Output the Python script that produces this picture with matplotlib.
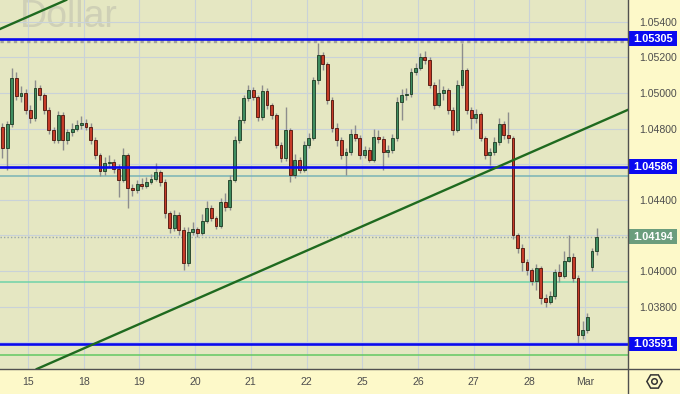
import matplotlib
matplotlib.use("Agg")
import matplotlib.pyplot as plt
from matplotlib.lines import Line2D
from matplotlib.patches import Rectangle
import matplotlib.transforms as mtransforms

# ---------------- data ----------------
day_labels = ['15', '18', '19', '20', '21', '22', '25', '26', '27', '28', 'Mar']
bars_per_day = 12

opens = [1.04810, 1.04692, 1.04826, 1.05084, 1.04983, 1.05000, 1.04905, 1.04860, 1.05028, 1.04989,
         1.04905, 1.04793, 1.04737, 1.04877, 1.04737, 1.04781, 1.04798, 1.04821, 1.04832, 1.04810,
         1.04737, 1.04652, 1.04563, 1.04608, 1.04613, 1.04574, 1.04512, 1.04652, 1.04467, 1.04456,
         1.04490, 1.04479, 1.04501, 1.04518, 1.04557, 1.04501, 1.04327, 1.04243, 1.04316, 1.04231,
         1.04047, 1.04220, 1.04237, 1.04215, 1.04282, 1.04355, 1.04299, 1.04254, 1.04389, 1.04361,
         1.04512, 1.04737, 1.04849, 1.04972, 1.05017, 1.04978, 1.04866, 1.05011, 1.04933, 1.04877,
         1.04709, 1.04636, 1.04793, 1.04540, 1.04624, 1.04569, 1.04709, 1.04748, 1.05073, 1.05213,
         1.05163, 1.04961, 1.04804, 1.04737, 1.04652, 1.04669, 1.04770, 1.04748, 1.04652, 1.04680,
         1.04624, 1.04753, 1.04742, 1.04669, 1.04680, 1.04748, 1.04950, 1.04989, 1.04995, 1.05118,
         1.05141, 1.05202, 1.05185, 1.05045, 1.04933, 1.05000, 1.05017, 1.04905, 1.04793, 1.05045,
         1.05129, 1.04905, 1.04860, 1.04882, 1.04748, 1.04652, 1.04669, 1.04725, 1.04826, 1.04764,
         1.04748, 1.04203, 1.04131, 1.04052, 1.04007, 1.03946, 1.04018, 1.03850, 1.03828, 1.03861,
         1.03996, 1.03974, 1.04058, 1.04080, 1.03962, 1.03643, 1.03671, 1.04024, 1.04114]

closes = [1.04692, 1.04826, 1.05084, 1.04983, 1.05000, 1.04905, 1.04860, 1.05028, 1.04989, 1.04905,
          1.04793, 1.04737, 1.04877, 1.04737, 1.04781, 1.04798, 1.04821, 1.04832, 1.04810, 1.04737,
          1.04652, 1.04563, 1.04608, 1.04613, 1.04574, 1.04512, 1.04652, 1.04467, 1.04456, 1.04490,
          1.04479, 1.04501, 1.04518, 1.04557, 1.04501, 1.04327, 1.04243, 1.04316, 1.04231, 1.04047,
          1.04220, 1.04237, 1.04215, 1.04282, 1.04355, 1.04299, 1.04254, 1.04389, 1.04361, 1.04512,
          1.04737, 1.04849, 1.04972, 1.05017, 1.04978, 1.04866, 1.05011, 1.04933, 1.04877, 1.04709,
          1.04636, 1.04793, 1.04540, 1.04624, 1.04569, 1.04709, 1.04748, 1.05073, 1.05213, 1.05163,
          1.04961, 1.04804, 1.04737, 1.04652, 1.04669, 1.04770, 1.04748, 1.04652, 1.04680, 1.04624,
          1.04753, 1.04742, 1.04669, 1.04680, 1.04748, 1.04950, 1.04989, 1.04995, 1.05118, 1.05141,
          1.05202, 1.05185, 1.05045, 1.04933, 1.05000, 1.05017, 1.04905, 1.04793, 1.05045, 1.05129,
          1.04905, 1.04860, 1.04882, 1.04748, 1.04652, 1.04669, 1.04725, 1.04826, 1.04764, 1.04748,
          1.04203, 1.04131, 1.04052, 1.04007, 1.03946, 1.04018, 1.03850, 1.03828, 1.03861, 1.03996,
          1.03974, 1.04058, 1.04080, 1.03962, 1.03643, 1.03671, 1.03744, 1.04114, 1.04194]

highs = [1.04830, 1.04840, 1.05140, 1.05120, 1.05040, 1.05020, 1.04930, 1.05073, 1.05045, 1.05000,
         1.04920, 1.04810, 1.04900, 1.04895, 1.04800, 1.04830, 1.04850, 1.04870, 1.04855, 1.04830,
         1.04750, 1.04665, 1.04640, 1.04650, 1.04630, 1.04600, 1.04690, 1.04665, 1.04490, 1.04510,
         1.04520, 1.04530, 1.04545, 1.04608, 1.04570, 1.04515, 1.04340, 1.04345, 1.04330, 1.04245,
         1.04250, 1.04275, 1.04250, 1.04320, 1.04395, 1.04370, 1.04310, 1.04410, 1.04439, 1.04540,
         1.04760, 1.04870, 1.04990, 1.05045, 1.05035, 1.04990, 1.05045, 1.05025, 1.04945, 1.04890,
         1.04725, 1.04920, 1.04805, 1.04660, 1.04640, 1.04730, 1.04775, 1.05090, 1.05281, 1.05230,
         1.05175, 1.04975, 1.04830, 1.04750, 1.04690, 1.04800, 1.04820, 1.04765, 1.04700, 1.04695,
         1.04800, 1.04790, 1.04760, 1.04710, 1.04770, 1.04975, 1.05020, 1.05030, 1.05140, 1.05170,
         1.05225, 1.05235, 1.05200, 1.05060, 1.05080, 1.05040, 1.05030, 1.04920, 1.05070, 1.05281,
         1.05140, 1.04920, 1.04910, 1.04895, 1.04760, 1.04690, 1.04750, 1.04860, 1.04840, 1.04894,
         1.04760, 1.04215, 1.04150, 1.04070, 1.04020, 1.04040, 1.04030, 1.03870, 1.03890, 1.04010,
         1.04040, 1.04110, 1.04200, 1.04100, 1.03980, 1.03720, 1.03765, 1.04130, 1.04240]

lows = [1.04636, 1.04568, 1.04810, 1.04960, 1.04950, 1.04880, 1.04830, 1.04845, 1.04960, 1.04880,
        1.04770, 1.04720, 1.04720, 1.04680, 1.04715, 1.04760, 1.04785, 1.04800, 1.04790, 1.04715,
        1.04630, 1.04536, 1.04540, 1.04585, 1.04550, 1.04417, 1.04500, 1.04355, 1.04420, 1.04440,
        1.04460, 1.04465, 1.04490, 1.04505, 1.04480, 1.04300, 1.04215, 1.04225, 1.04200, 1.04007,
        1.04030, 1.04205, 1.04190, 1.04200, 1.04270, 1.04280, 1.04235, 1.04240, 1.04340, 1.04345,
        1.04500, 1.04720, 1.04830, 1.04955, 1.04960, 1.04840, 1.04850, 1.04910, 1.04855, 1.04690,
        1.04610, 1.04620, 1.04501, 1.04520, 1.04550, 1.04555, 1.04690, 1.04735, 1.05050, 1.05130,
        1.04940, 1.04780, 1.04700, 1.04630, 1.04542, 1.04650, 1.04730, 1.04630, 1.04635, 1.04610,
        1.04610, 1.04720, 1.04568, 1.04640, 1.04665, 1.04730, 1.04849, 1.04960, 1.04980, 1.05100,
        1.05130, 1.05160, 1.05025, 1.04910, 1.04920, 1.04960, 1.04880, 1.04765, 1.04780, 1.05030,
        1.04880, 1.04800, 1.04830, 1.04730, 1.04630, 1.04597, 1.04650, 1.04710, 1.04740, 1.04720,
        1.04180, 1.04103, 1.04000, 1.03980, 1.03920, 1.03895, 1.03815, 1.03800, 1.03815, 1.03845,
        1.03940, 1.03960, 1.04050, 1.03940, 1.03595, 1.03620, 1.03650, 1.04000, 1.04090]

# horizontal levels
blue_levels = [1.05305, 1.04586, 1.03591]
dotted_level = 1.05289
current_price = 1.04194
teal_level = 1.04531
mint_level = 1.03940
green_level = 1.03527

# trend channel (day index, price)
trend_point = (0.215, 1.03458)
trend_slope = 0.001371
channel_point = (-0.503, 1.05359)

price_ticks = [1.054, 1.052, 1.050, 1.048, 1.046, 1.044, 1.042, 1.040, 1.038, 1.036]
price_tick_labels = ['1.05400', '1.05200', '1.05000', '1.04800', '', '1.04400', '', '1.04000', '1.03800', '']

# ---------------- figure ----------------
W, H = 680, 394
fig = plt.figure(figsize=(W / 100, H / 100), dpi=100, facecolor='#fdf9c9')
ax_right_px, ax_bottom_px = 628, 369
ax = fig.add_axes([0, (H - ax_bottom_px) / H, ax_right_px / W, ax_bottom_px / H])
ax.set_facecolor('#e5e7c2')

x_min, x_max = -0.503, 10.772
y_min, y_max = 1.034502, 1.055218
ax.set_xlim(x_min, x_max)
ax.set_ylim(y_min, y_max)

# grid
ax.set_xticks(range(len(day_labels)))
ax.set_xticklabels(day_labels)
ax.set_yticks(price_ticks)
ax.set_yticklabels(price_tick_labels)
ax.grid(True, color='#c9d2d8', lw=0.8, zorder=0)
ax.set_axisbelow(True)
ax.yaxis.tick_right()
ax.tick_params(axis='both', length=0, labelsize=7.6, labelcolor='#4d4d4d')
ax.tick_params(axis='y', pad=8)
ax.tick_params(axis='x', pad=6)
for lbl in ax.get_xticklabels() + ax.get_yticklabels():
    lbl.set_fontfamily(['Liberation Sans', 'DejaVu Sans'])
for s in ax.spines.values():
    s.set_visible(False)

# watermark
ax.text(20 / ax_right_px, 1 - 27 / ax_bottom_px, 'Dollar', transform=ax.transAxes,
        fontsize=27, color='#cfd0b6', va='baseline', ha='left', zorder=0.5,
        family=['Liberation Sans', 'DejaVu Sans'])

# horizontal lines
ax.axhline(teal_level, color='#79b3b5', lw=1.1, zorder=2)
ax.axhline(mint_level, color='#6fd3a8', lw=1.1, zorder=2)
ax.axhline(green_level, color='#62c862', lw=1.1, zorder=2)
ax.axhline(dotted_level, color='#a3a39a', lw=2.4, ls=(0, (1, 1)), zorder=2)
ax.axhline(current_price, color='#98a6aa', lw=1.0, ls=(0, (1, 1.5)), zorder=2)

# candles
n = len(closes)
times = [-0.5 + (i + 0.5) / bars_per_day for i in range(n)]
bw = 0.62 / bars_per_day
for t, o, h, l, c in zip(times, opens, highs, lows, closes):
    ax.vlines(t, l, h, color='#8d8d8d', lw=1.0, zorder=3)
for t, o, h, l, c in zip(times, opens, highs, lows, closes):
    up = c >= o
    bottom = min(o, c)
    height = max(abs(c - o), 0.00004)
    ax.bar(t, height, bottom=bottom, width=bw,
           color='#3f8d60' if up else '#c63b28',
           edgecolor='#1c3a22' if up else '#4b120a', linewidth=0.6, zorder=4)

# blue levels on top
for lv in blue_levels:
    ax.axhline(lv, color='#0a0af0', lw=1.9, zorder=5)

# trend channel
ax.axline(trend_point, slope=trend_slope, color='#1f6a1f', lw=1.7, zorder=5)
ax.axline(channel_point, slope=trend_slope, color='#1f6a1f', lw=1.7, zorder=5)

# price badges
blend = mtransforms.blended_transform_factory(fig.transFigure, ax.transData)
px_per_price = ax_bottom_px / (y_max - y_min)
badge_h = 14.5 / px_per_price
badge_x0, badge_x1 = 629 / W, 677 / W
badges = [(lv, '#0a0af0') for lv in blue_levels] + [(current_price, '#6b9d7d')]
for lv, col in badges:
    ax.add_patch(Rectangle((badge_x0, lv - badge_h / 2), badge_x1 - badge_x0, badge_h,
                           transform=blend, facecolor=col, edgecolor='none',
                           clip_on=False, zorder=10))
    ax.text((badge_x0 + badge_x1) / 2, lv, f'{lv:.5f}', transform=blend, ha='center',
            va='center', color='white', fontsize=7.9, fontweight='bold', clip_on=False,
            zorder=11, family=['Liberation Sans', 'DejaVu Sans'])

# separators
fig.add_artist(Line2D([ax_right_px / W, ax_right_px / W], [0, 1], transform=fig.transFigure,
                      color='#505050', lw=1.0))
fig.add_artist(Line2D([0, 1], [(H - ax_bottom_px) / H] * 2, transform=fig.transFigure,
                      color='#505050', lw=1.0))

# settings icon
fig.add_artist(Line2D([654 / W], [(H - 381) / H], transform=fig.transFigure, marker='H',
                      markersize=11, markerfacecolor='none', markeredgecolor='#333333',
                      markeredgewidth=1.1, linestyle='none'))
fig.add_artist(Line2D([654 / W], [(H - 381) / H], transform=fig.transFigure, marker='o',
                      markersize=4, markerfacecolor='none', markeredgecolor='#333333',
                      markeredgewidth=1.1, linestyle='none'))

fig.savefig('out.png', dpi=100, facecolor=fig.get_facecolor())
